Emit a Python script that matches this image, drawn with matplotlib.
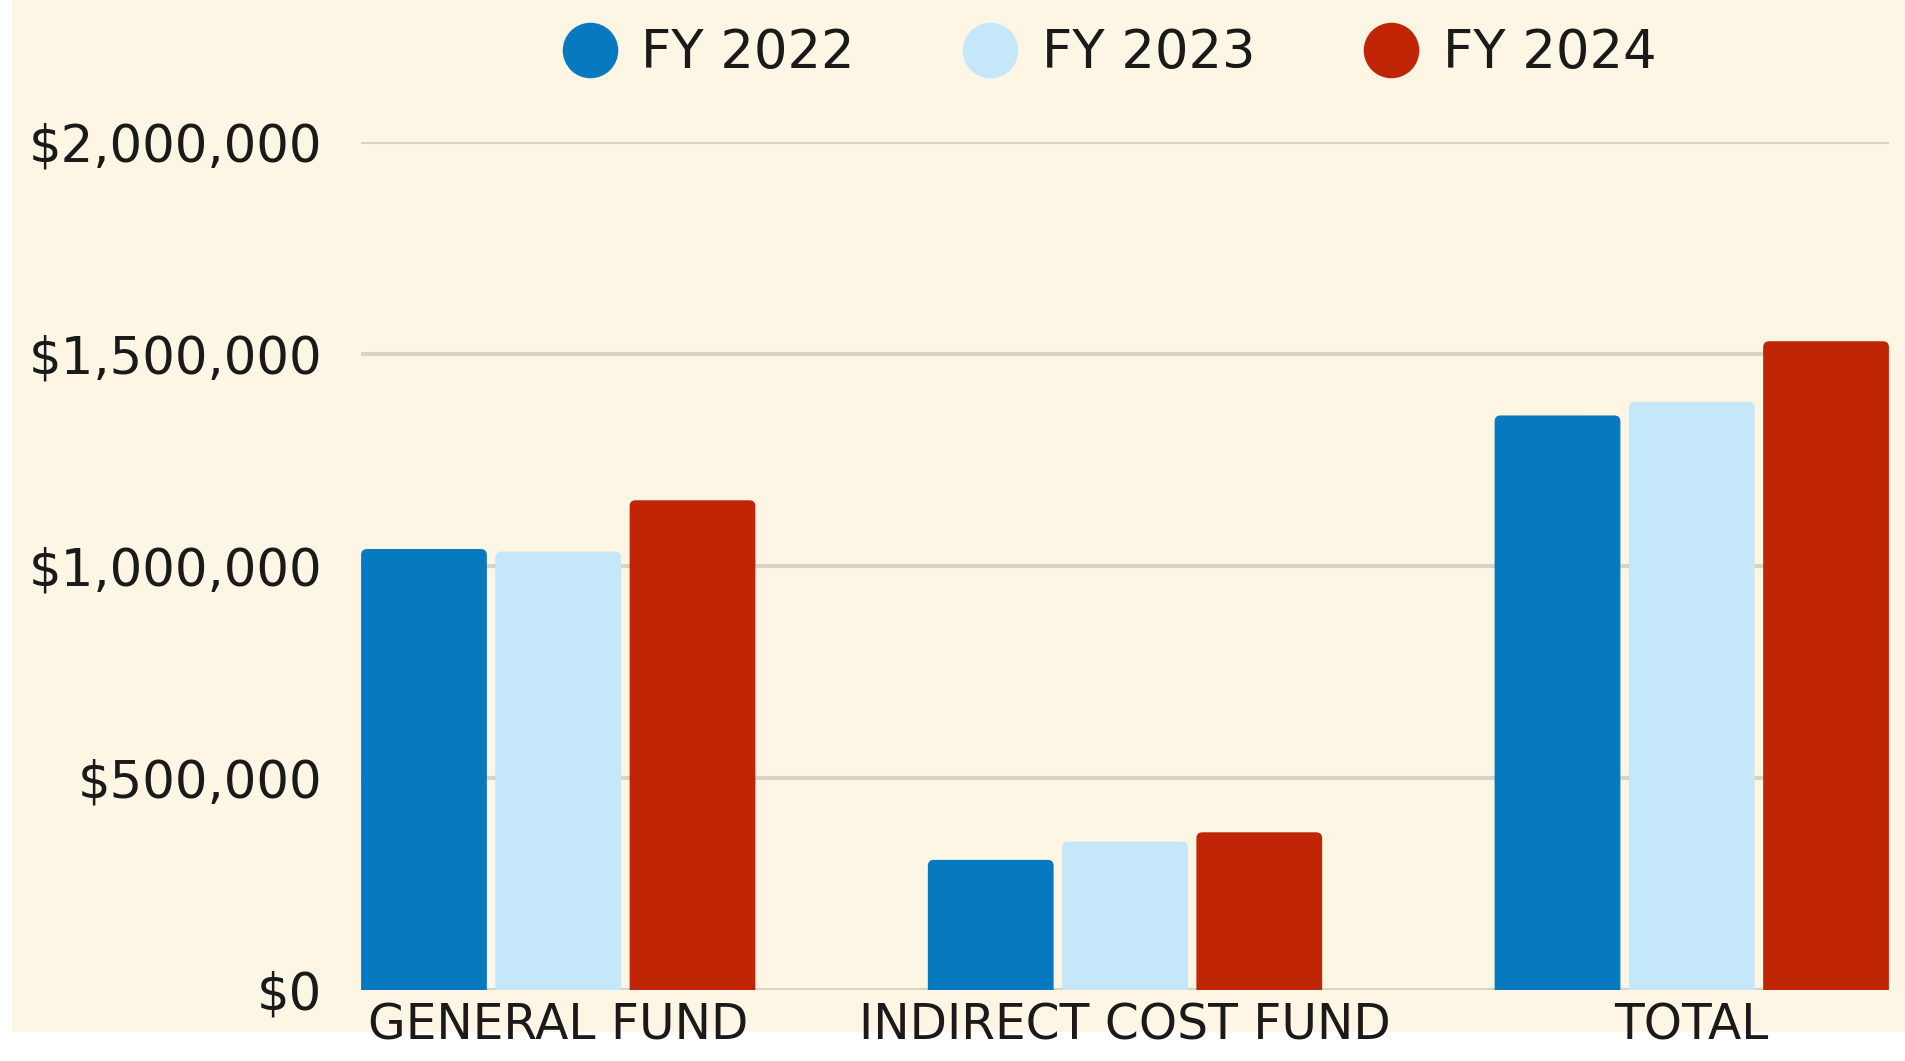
import matplotlib.pyplot as plt
import matplotlib.patches as mpatches
from matplotlib.lines import Line2D
from matplotlib.ticker import FuncFormatter
import numpy as np

# 数据
categories = ['GENERAL FUND', 'INDIRECT COST FUND', 'TOTAL']
years = ['FY 2022', 'FY 2023', 'FY 2024']
fy2022 = [1040000, 307000, 1355000]
fy2023 = [1034000, 350000, 1387000]
fy2024 = [1155000, 372000, 1530000]
yticks = [0, 500000, 1000000, 1500000, 2000000]

colors = ['#0779BF', '#C4E7FA', '#C02505']
bg = '#FDF6E5'
grid_c = '#D8D5C6'
text_c = '#1a1a1a'

plt.rcParams['font.family'] = ['DejaVu Sans']

fig = plt.figure(figsize=(19.05, 10.61), dpi=100, facecolor='white')
# 奶油色背景
fig.patches.append(mpatches.Rectangle((0.0063, 0.0273), 1 - 0.0063, 1 - 0.0273,
                                      transform=fig.transFigure, facecolor=bg,
                                      edgecolor='none', zorder=-10))

ax = fig.add_axes([0.1895, 0.0669, 0.9916 - 0.1895, 0.8662 - 0.0669])
ax.set_facecolor('none')

x = np.arange(len(categories))
step = 0.2369
width = 0.2219
ax.set_xlim(-0.348, 2.348)
ax.set_ylim(0, 2000000)

# 圆角柱子：先用 bar 得到位置，再换成圆角矩形
r_px = 6
ppx = ax.get_window_extent().width / 2.696
ppy = ax.get_window_extent().height / 2000000
rx = r_px / ppx
aspect = ppx / ppy
for i, (vals, c) in enumerate(zip([fy2022, fy2023, fy2024], colors)):
    bars = ax.bar(x + (i - 1) * step, vals, width=width, color=c, zorder=3)
    for rect in bars:
        bx, bw, bh = rect.get_x(), rect.get_width(), rect.get_height()
        ry = rx * aspect
        p = mpatches.FancyBboxPatch((bx, -ry), bw, bh + ry,
                                    boxstyle='round,pad=0,rounding_size=%f' % rx,
                                    mutation_aspect=aspect, facecolor=c,
                                    edgecolor='none', zorder=3)
        ax.add_patch(p)
        rect.set_visible(False)

ax.set_yticks(yticks)
ax.yaxis.set_major_formatter(FuncFormatter(lambda v, p: '${:,.0f}'.format(v)))
ax.set_xticks(x)
ax.set_xticklabels(categories)

ax.grid(axis='y', color=grid_c, linewidth=3, zorder=0)
ax.set_axisbelow(True)
for s in ax.spines.values():
    s.set_visible(False)
ax.tick_params(axis='both', length=0, colors=text_c)
ax.tick_params(axis='y', labelsize=37, pad=28)
ax.tick_params(axis='x', labelsize=35, pad=8)

handles = [Line2D([0], [0], marker='o', linestyle='none', markersize=40,
                  markerfacecolor=c, markeredgecolor='none') for c in colors]
fig.legend(handles, years, loc='center', bbox_to_anchor=(0.5826, 0.950), ncol=3,
           frameon=False, fontsize=38, handlelength=1.0, handletextpad=0.48,
           columnspacing=2.07, labelcolor=text_c)

fig.savefig('out.png', dpi=100, facecolor=fig.get_facecolor())
